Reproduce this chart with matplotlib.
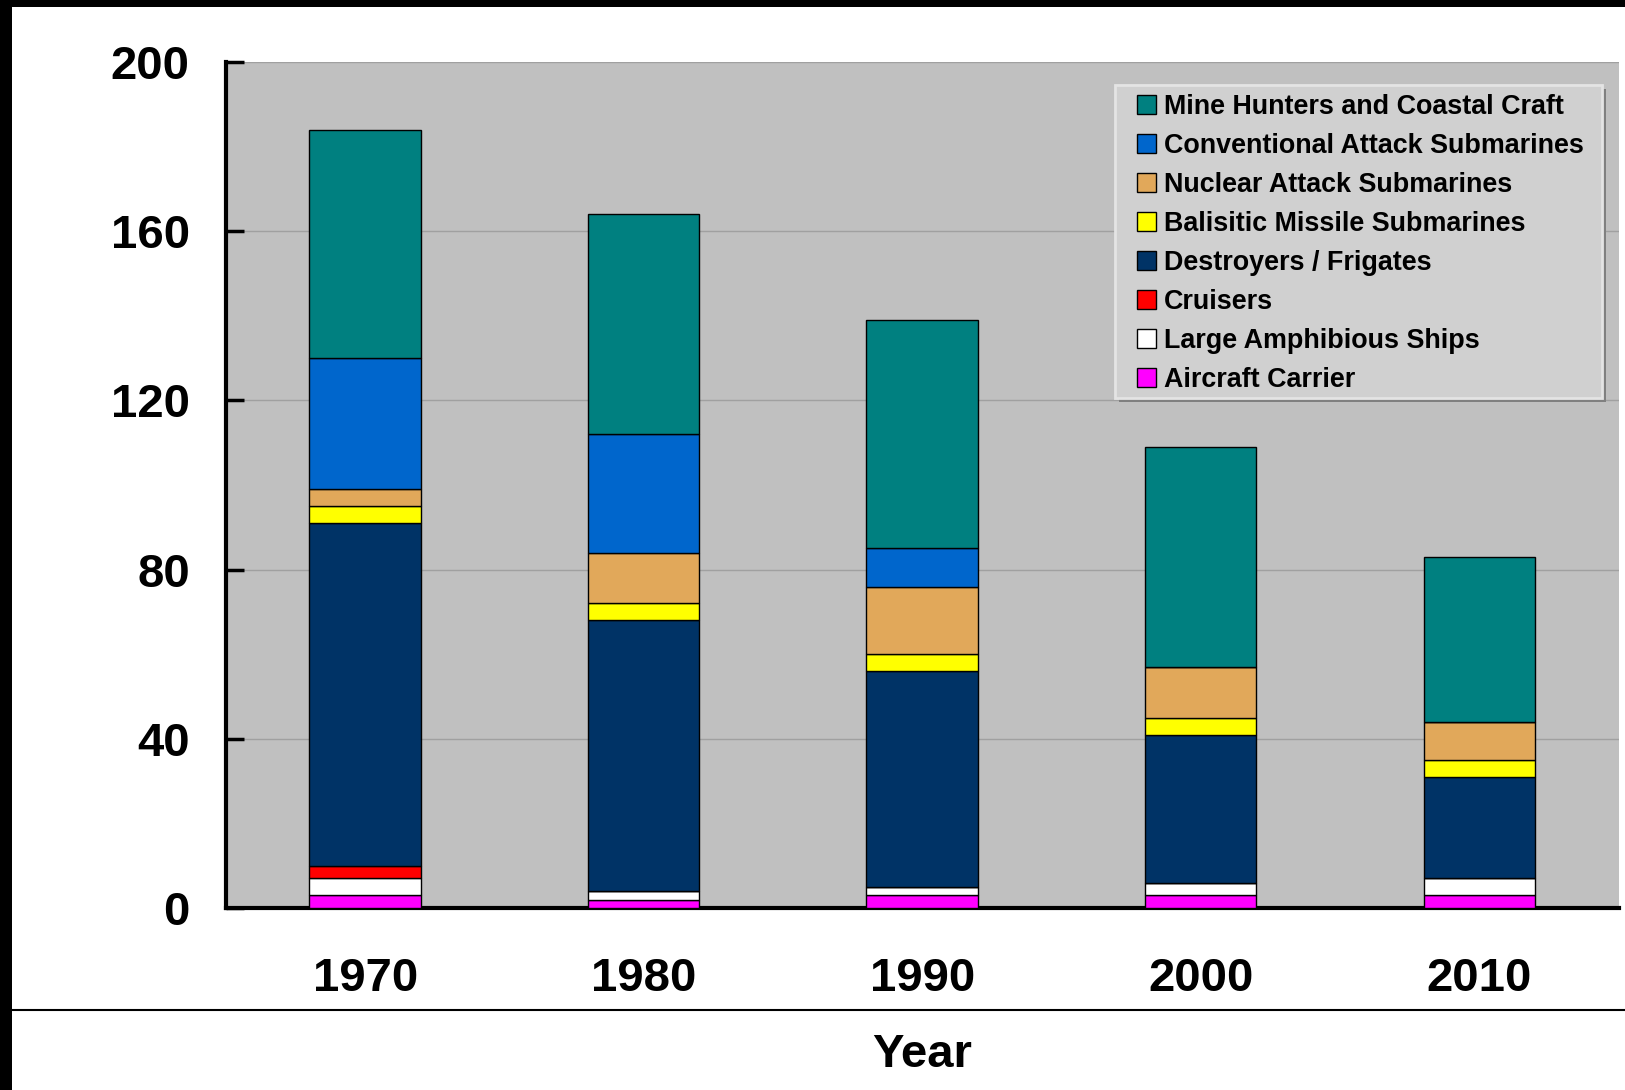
import matplotlib.pyplot as plt
import numpy as np
from matplotlib.lines import Line2D
from matplotlib.patches import Rectangle

plt.rcParams['font.family'] = ['Liberation Sans', 'DejaVu Sans']
plt.rcParams['font.weight'] = 'bold'

# Data (ships per category, stacked bottom to top)
years = ['1970', '1980', '1990', '2000', '2010']
aircraft_carrier = [3, 2, 3, 3, 3]
large_amphibious = [4, 2, 2, 3, 4]
cruisers = [3, 0, 0, 0, 0]
destroyers_frigates = [81, 64, 51, 35, 24]
ballistic_subs = [4, 4, 4, 4, 4]
nuclear_attack_subs = [4, 12, 16, 12, 9]
conventional_subs = [31, 28, 9, 0, 0]
mine_hunters = [54, 52, 54, 52, 39]

series = [
    ('Aircraft Carrier', aircraft_carrier, '#FF00FF'),
    ('Large Amphibious Ships', large_amphibious, '#FFFFFF'),
    ('Cruisers', cruisers, '#FF0000'),
    ('Destroyers / Frigates', destroyers_frigates, '#003366'),
    ('Balisitic Missile Submarines', ballistic_subs, '#FFFF00'),
    ('Nuclear Attack Submarines', nuclear_attack_subs, '#E1A85A'),
    ('Conventional Attack Submarines', conventional_subs, '#0066CC'),
    ('Mine Hunters and Coastal Craft', mine_hunters, '#008080'),
]

fig = plt.figure(figsize=(16.25, 10.9), dpi=100)
ax = fig.add_axes([0.139, 0.167, 0.857, 0.776])
ax.set_facecolor('#C0C0C0')

x = np.arange(len(years))
bottom = np.zeros(len(years))
handles = []
for name, vals, col in series:
    vals = np.array(vals, dtype=float)
    bars = ax.bar(x, vals, width=0.4, bottom=bottom, color=col,
                  edgecolor='black', linewidth=1.0, label=name, zorder=3)
    handles.append(bars)
    bottom += vals

ax.set_xlim(-0.5, 4.5)
ax.set_ylim(0, 200)
ax.set_yticks([0, 40, 80, 120, 160, 200])
ax.set_xticks(x)
ax.set_xticklabels(years)
ax.yaxis.grid(True, color='#A0A0A0', linewidth=1.0, zorder=0)
ax.set_axisbelow(True)

ax.tick_params(axis='y', direction='in', length=13, width=2.5, pad=26,
               labelsize=34)
ax.tick_params(axis='x', length=0, pad=35, labelsize=34)
for t in ax.get_xticklabels() + ax.get_yticklabels():
    t.set_fontweight('bold')

for s in ['top', 'right']:
    ax.spines[s].set_visible(False)
ax.spines['left'].set_linewidth(3)
ax.spines['bottom'].set_linewidth(3)

ax.set_xlabel('Year', fontsize=34, fontweight='bold', labelpad=23)

# legend box with shadow, drawn by hand
W, H = 1625, 1090
bx0, bx1, by0, by1 = 1115, 1602, 85, 398
ax.add_patch(Rectangle(((bx0 + 4) / W, 1 - (by1 + 4) / H), (bx1 - bx0) / W,
                       (by1 - by0) / H, transform=fig.transFigure,
                       facecolor='#808080', edgecolor='none', zorder=4,
                       clip_on=False))
ax.add_patch(Rectangle((bx0 / W, 1 - by1 / H), (bx1 - bx0) / W,
                       (by1 - by0) / H, transform=fig.transFigure,
                       facecolor='#D0D0D0', edgecolor='#E4E4E4', linewidth=2,
                       zorder=4.5, clip_on=False))

leg = ax.legend(handles[::-1], [s[0] for s in series][::-1],
                loc='upper left', bbox_to_anchor=(0.654, 0.962),
                prop={'weight': 'bold', 'size': 19.4},
                frameon=False,
                handlelength=0.7, handleheight=0.7, handletextpad=0.3,
                labelspacing=0.48, borderpad=0, borderaxespad=0)
leg.set_zorder(5)

# slide frame: black borders and separator line
fig.patches.append(Rectangle((0, 1 - 7 / H), 1, 7 / H,
                             transform=fig.transFigure, facecolor='black',
                             edgecolor='none'))
fig.patches.append(Rectangle((0, 0), 12 / W, 1,
                             transform=fig.transFigure, facecolor='black',
                             edgecolor='none'))
fig.lines.append(Line2D([12 / W, 1], [1 - 1010 / H, 1 - 1010 / H],
                        transform=fig.transFigure, color='black',
                        linewidth=1.5))

fig.savefig('out.png', dpi=100)
